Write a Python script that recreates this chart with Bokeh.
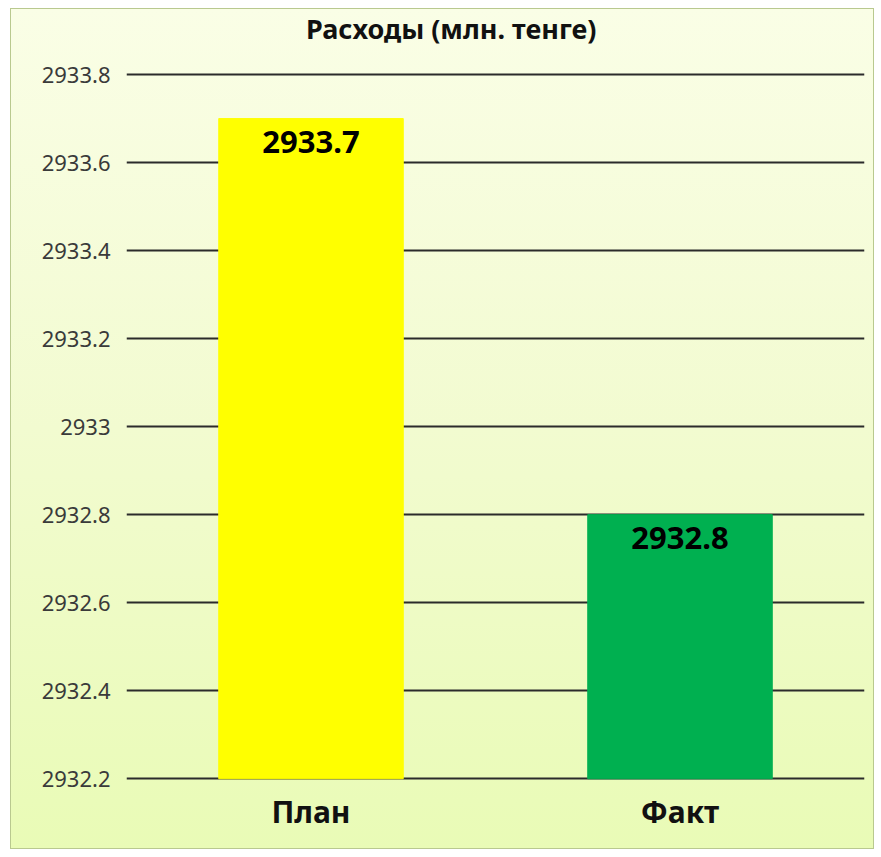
from bokeh.plotting import figure
from bokeh.models import ColumnDataSource, Range1d, FixedTicker, CustomJSTickFormatter, Label
from bokeh.core.properties import value
from bokeh.embed import file_html
from bokeh.resources import INLINE

categories = ["План", "Факт"]
values = [2933.7, 2932.8]
colors = ["#ffff00", "#00b050"]
y_ticks = [2932.2, 2932.4, 2932.6, 2932.8, 2933.0, 2933.2, 2933.4, 2933.6, 2933.8]
y_min, y_max = 2932.2, 2933.8
title_text = "Расходы (млн. тенге)"

labels = [f"{v:.1f}" for v in values]
src = ColumnDataSource(dict(cat=categories, val=values, color=colors, label=labels,
                            bottom=[y_min] * len(values)))

pad = 0.004
head = 0.141  # headroom above the top gridline for the title
p = figure(x_range=categories, y_range=Range1d(y_min - pad, y_max + head),
           width=864, height=841, output_backend="svg", toolbar_location=None,
           min_border_left=115, min_border_right=11, min_border_top=3, min_border_bottom=70)

p.styles = {"margin-left": "10px", "margin-top": "8px",
            "border": "1px solid #b9c98f",
            "background": "linear-gradient(180deg, #fafee6 0%, #f2fbd0 50%, #e9fbb6 100%)"}
p.background_fill_alpha = 0
p.border_fill_alpha = 0
p.outline_line_color = None

# title centred on the whole chart (not the plot frame)
title = Label(x=0.88, y=y_max + 0.105, text=title_text, text_align="center",
              text_baseline="middle", text_font="Noto Sans", text_font_size="27px",
              text_font_style="bold", text_color="#111111")
p.add_layout(title)

p.vbar(x="cat", top="val", bottom="bottom", width=0.5, color="color", source=src)

p.text(x="cat", y="val", text="label", source=src, text_align="center",
       text_baseline="top", y_offset=12, text_font=value("Noto Sans"),
       text_font_style="bold", text_font_size="31px", text_color="#000000")

p.yaxis.ticker = FixedTicker(ticks=y_ticks)
p.yaxis.formatter = CustomJSTickFormatter(code="return (Math.round(tick*10)/10).toString();")
p.yaxis.axis_line_color = None
p.yaxis.major_tick_line_color = None
p.yaxis.minor_tick_line_color = None
p.yaxis.major_label_text_font = "Noto Sans"
p.yaxis.major_label_text_font_size = "22px"
p.yaxis.major_label_text_color = "#3a3a3a"
p.yaxis.major_label_standoff = 10

p.xaxis.axis_line_color = None
p.xaxis.major_tick_line_color = None
p.xaxis.minor_tick_line_color = None
p.xaxis.major_label_text_font = "Noto Sans"
p.xaxis.major_label_text_font_size = "30px"
p.xaxis.major_label_text_font_style = "bold"
p.xaxis.major_label_text_color = "#111111"
p.xaxis.major_label_standoff = 4

p.xgrid.grid_line_color = None
p.ygrid.grid_line_color = "#2b2b2b"
p.ygrid.grid_line_width = 2

open("out.html", "w").write(file_html(p, INLINE))
